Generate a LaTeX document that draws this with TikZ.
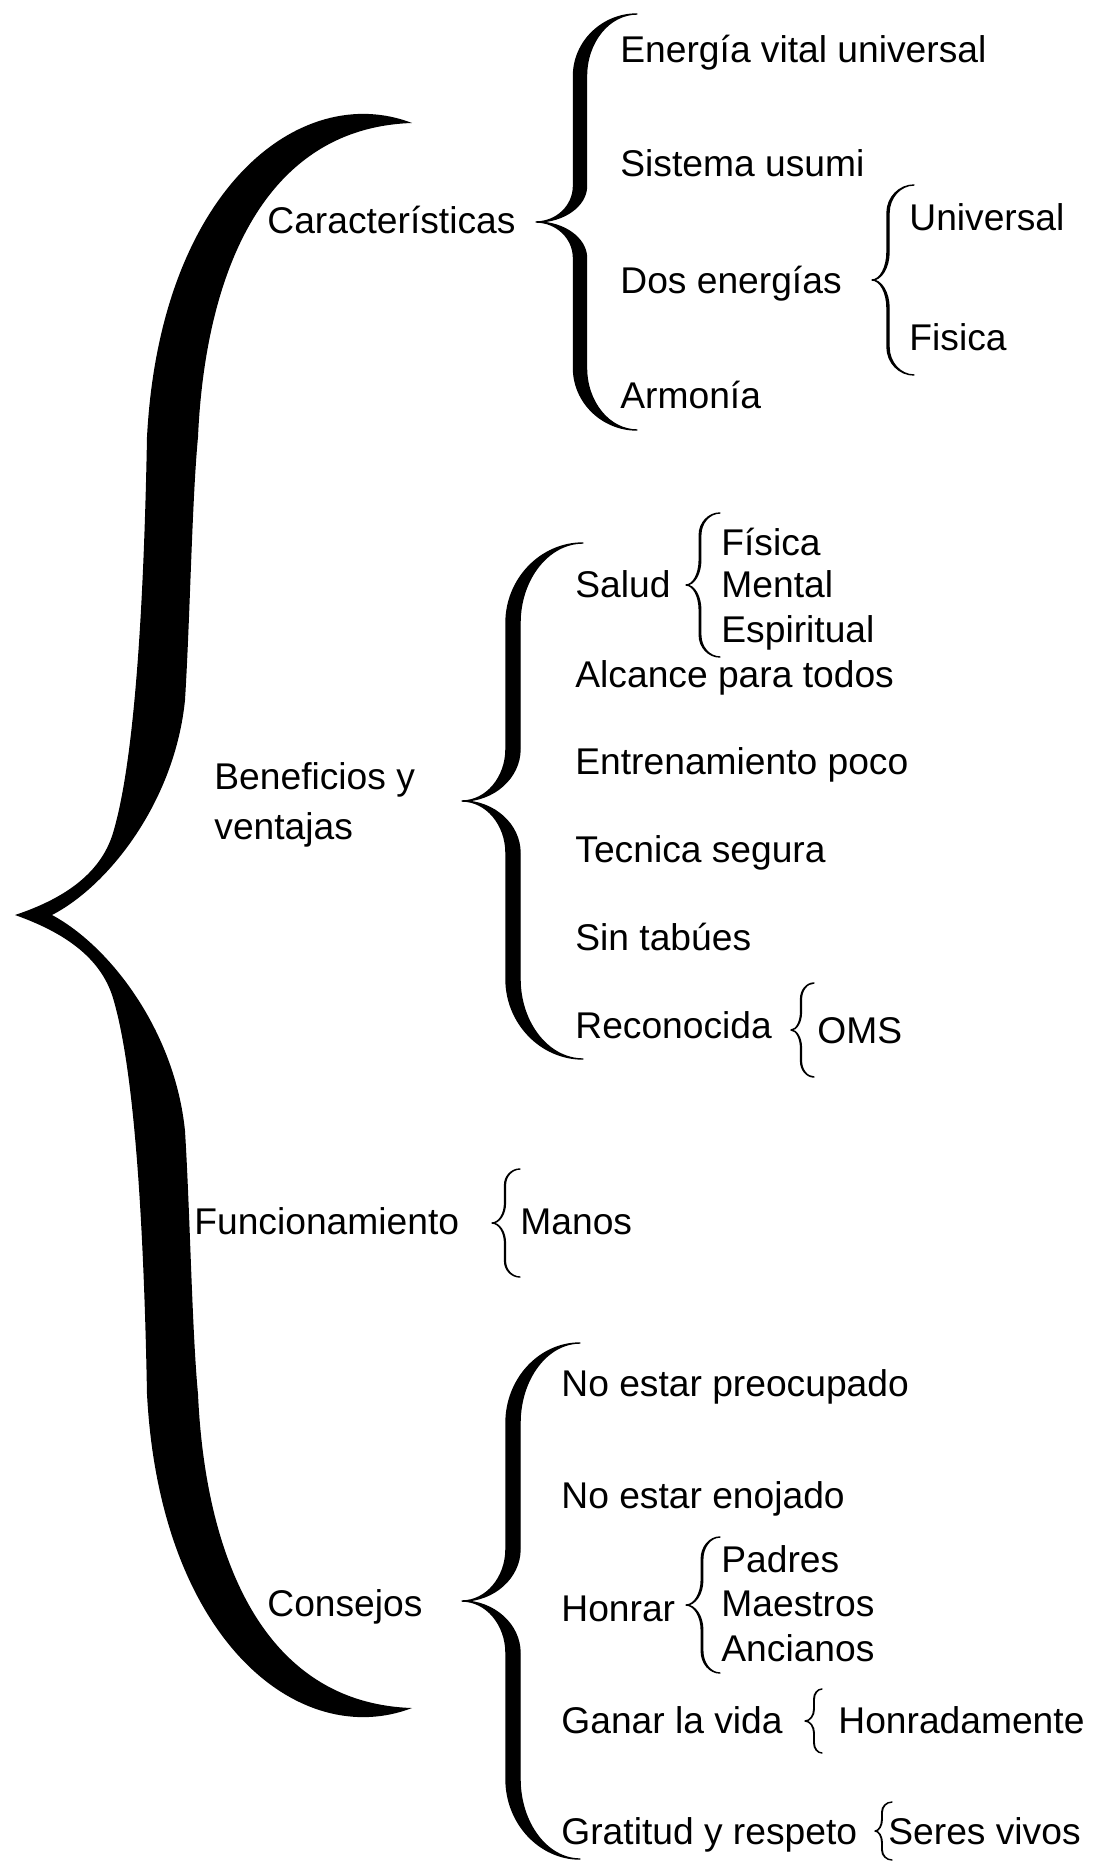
\documentclass[tikz,border=0pt]{standalone}
\usepackage{fontspec}
\setmainfont{Liberation Sans}

\tikzset{
  lbl/.style={anchor=base west, inner sep=0pt, font=\fontsize{18.6}{22}\selectfont}
}

% tip x, mid y, half height, arm x, end x, width, end curl, tip curl
\newcommand{\fatbrace}[8]{%
  \pgfmathsetmacro{\bo}{#4-#6/2}
  \pgfmathsetmacro{\bi}{#4+#6/2}
  \pgfmathsetmacro{\bt}{#2-#3}
  \pgfmathsetmacro{\bb}{#2+#3}
  \filldraw[line width=0.7pt, line join=round]
    (#5,\bt) .. controls ({#5-0.55*(#5-\bo)},\bt) and (\bo,{\bt+0.45*#7}) .. (\bo,{\bt+#7})
    -- (\bo,{#2-#8}) .. controls (\bo,{#2-0.45*#8}) and ({#1+0.55*(\bo-#1)},#2) .. (#1,#2)
    .. controls ({#1+0.55*(\bo-#1)},#2) and (\bo,{#2+0.45*#8}) .. (\bo,{#2+#8})
    -- (\bo,{\bb-#7}) .. controls (\bo,{\bb-0.45*#7}) and ({#5-0.55*(#5-\bo)},\bb) .. (#5,\bb)
    .. controls ({#5-0.55*(#5-\bi)},\bb) and (\bi,{\bb-0.45*#7}) .. (\bi,{\bb-#7})
    -- (\bi,{#2+#8}) .. controls (\bi,{#2+0.45*#8}) and ({#1+0.55*(\bi-#1)},#2) .. (#1,#2)
    .. controls ({#1+0.55*(\bi-#1)},#2) and (\bi,{#2-0.45*#8}) .. (\bi,{#2-#8})
    -- (\bi,{\bt+#7}) .. controls (\bi,{\bt+0.45*#7}) and ({#5-0.55*(#5-\bi)},\bt) .. (#5,\bt)
    -- cycle;
}

\begin{document}
\begin{tikzpicture}[x=0.5pt,y=-0.5pt]
  \useasboundingbox (0,0) rectangle (1094,1866);

  % main brace
  \fill (412,123) .. controls (300,80) and (160,190) .. (147,437)
    .. controls (144,600) and (135,760) .. (113,833)
    .. controls (100,876) and (60,900) .. (15,915)
    .. controls (60,931) and (100,955) .. (113,998)
    .. controls (135,1071) and (144,1231) .. (147,1394)
    .. controls (160,1641) and (300,1751) .. (412,1708)
    .. controls (260,1703) and (205,1551) .. (198,1394)
    .. controls (192,1331) and (190,1211) .. (185,1131)
    .. controls (175,1031) and (110,946) .. (52,915)
    .. controls (110,885) and (175,800) .. (185,700)
    .. controls (190,620) and (192,500) .. (198,437)
    .. controls (205,280) and (260,128) .. (412,123) -- cycle;

  % Caracteristicas
  \node[lbl] (carac) at (267,234) {Características};
  \fatbrace{536}{222}{208}{580}{637}{13}{62}{36}
  \node[lbl] (energia) at (620,63) {Energía vital universal};
  \node[lbl] (sistema) at (620,177) {Sistema usumi};
  \node[lbl] (dos) at (620,294) {Dos energías};
  \node[lbl] (armonia) at (620,409) {Armonía};
  \fatbrace{872}{280}{95}{888}{914}{2}{28}{28}
  \node[lbl] (univ) at (909,231) {Universal};
  \node[lbl] (fisica) at (909,351) {Fisica};

  % Beneficios
  \node[lbl] (benef) at (214,789) {Beneficios y};
  \node[lbl] (ventajas) at (214,839) {ventajas};
  \fatbrace{462}{801}{258}{513}{583}{14}{80}{52}
  \node[lbl] (salud) at (575,597) {Salud};
  \fatbrace{686}{585}{72}{700}{720}{1.5}{22}{25}
  \node[lbl] (sfis) at (721,555) {Física};
  \node[lbl] (smen) at (721,597) {Mental};
  \node[lbl] (sesp) at (721,642) {Espiritual};
  \node[lbl] (alcance) at (575,687) {Alcance para todos};
  \node[lbl] (entren) at (575,774) {Entrenamiento poco};
  \node[lbl] (tecnica) at (575,862) {Tecnica segura};
  \node[lbl] (tabues) at (575,950) {Sin tabúes};
  \node[lbl] (recon) at (575,1038) {Reconocida};
  \fatbrace{791}{1030}{47}{801}{814}{0.8}{16}{18}
  \node[lbl] (oms) at (817,1043) {OMS};

  % Funcionamiento
  \node[lbl] (func) at (194,1234) {Funcionamiento};
  \fatbrace{492}{1223}{54}{505}{520}{0.8}{16}{20}
  \node[lbl] (manos) at (520,1234) {Manos};

  % Consejos
  \node[lbl] (consejos) at (267,1616) {Consejos};
  \fatbrace{462}{1601}{258}{513}{580}{14}{80}{52}
  \node[lbl] (preoc) at (561,1396) {No estar preocupado};
  \node[lbl] (enoj) at (561,1508) {No estar enojado};
  \node[lbl] (honrar) at (561,1621) {Honrar};
  \fatbrace{686}{1605}{68}{702}{720}{1.5}{22}{25}
  \node[lbl] (padres) at (721,1572) {Padres};
  \node[lbl] (maestros) at (721,1616) {Maestros};
  \node[lbl] (ancianos) at (721,1661) {Ancianos};
  \node[lbl] (ganar) at (561,1733) {Ganar la vida};
  \fatbrace{805}{1721}{32}{814}{822}{0.5}{10}{12}
  \node[lbl] (honrada) at (838,1733) {Honradamente};
  \node[lbl] (gratitud) at (561,1844) {Gratitud y respeto};
  \fatbrace{875}{1831}{29}{882}{892}{0.5}{10}{12}
  \node[lbl] (seres) at (888,1844) {Seres vivos};
\end{tikzpicture}
\end{document}
